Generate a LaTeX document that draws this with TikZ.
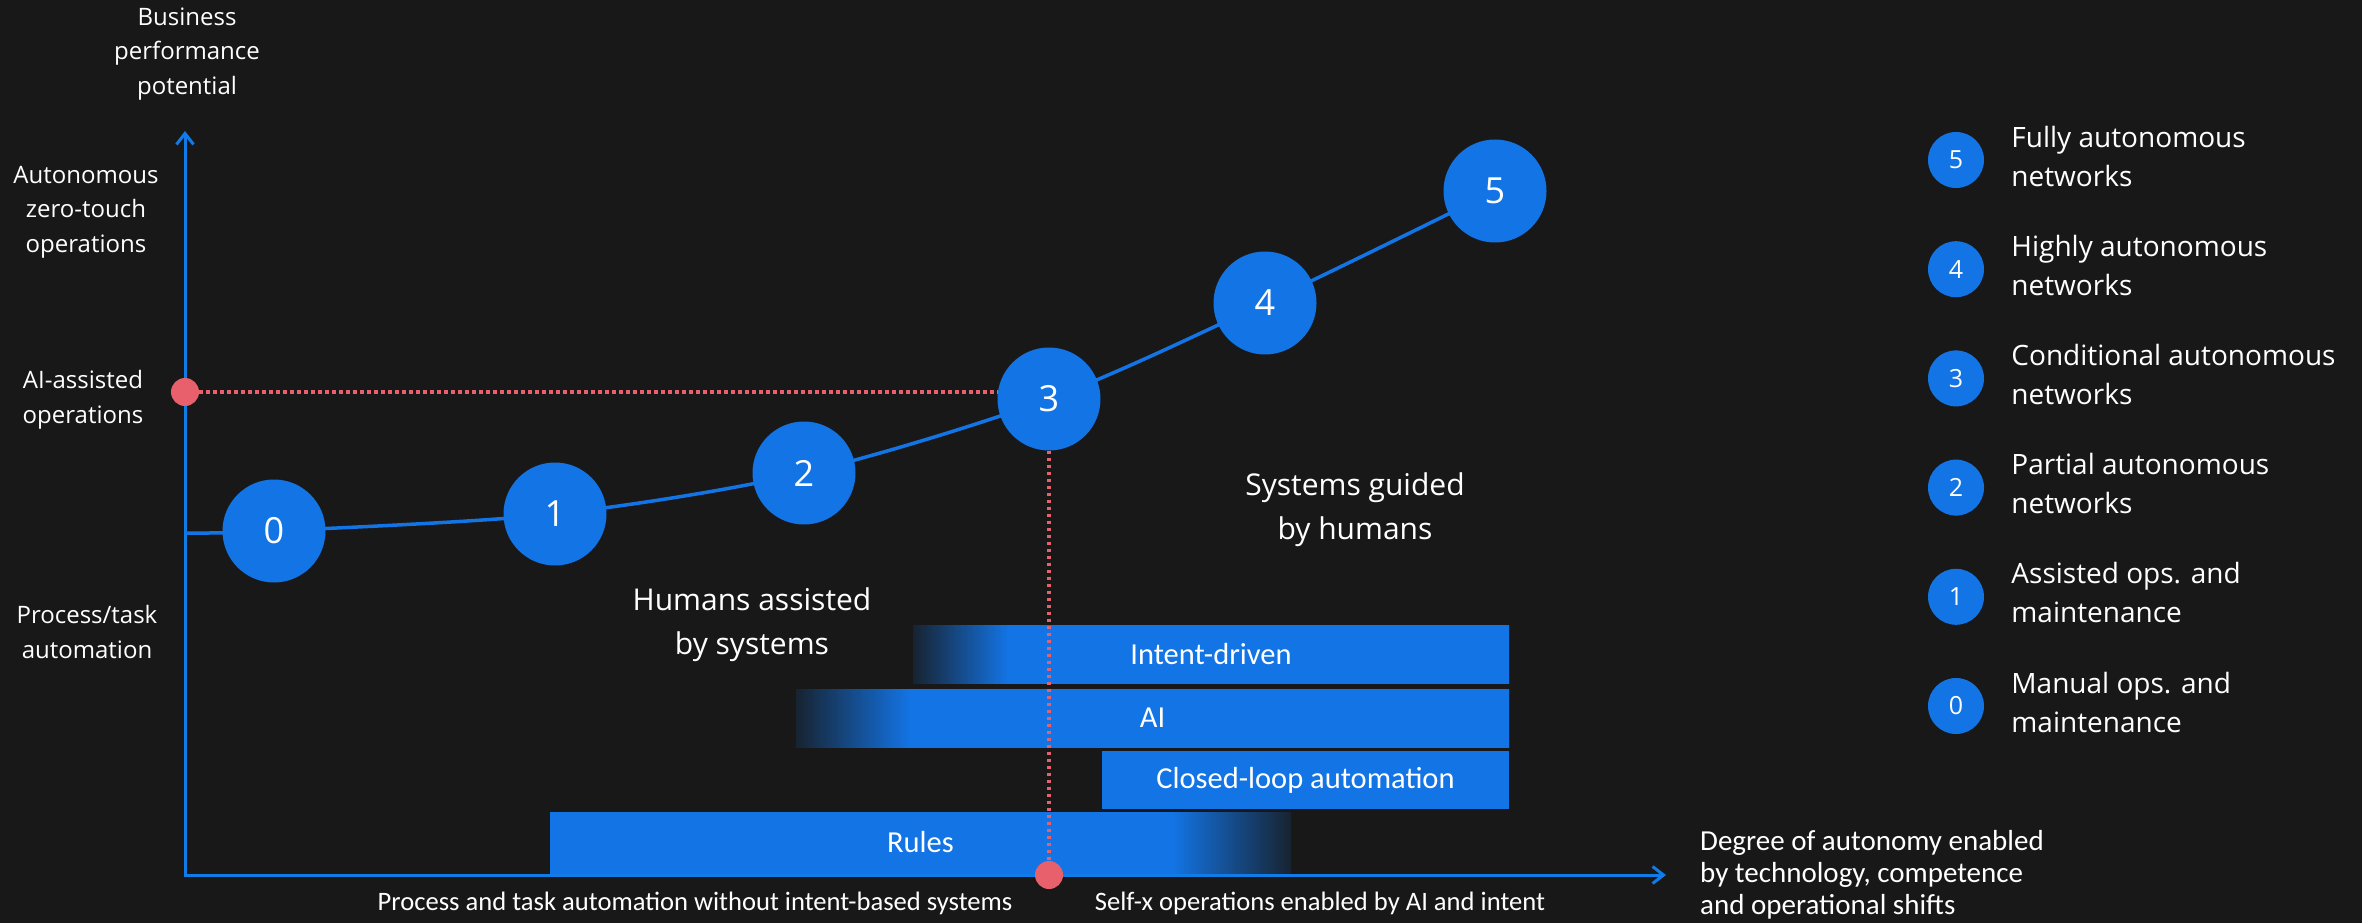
\documentclass[tikz,border=0pt]{standalone}
\usepackage{fontspec}
\setmainfont{Open Sans}
\newfontfamily\calfont{Carlito}
\usetikzlibrary{arrows.meta}
\usetikzlibrary{positioning}
\definecolor{bgdark}{RGB}{24,24,24}
\definecolor{nodeblue}{RGB}{19,116,229}
\definecolor{axisblue}{RGB}{16,124,232}
\definecolor{guidered}{RGB}{232,96,108}
\colorlet{barfade}{nodeblue!12!bgdark}
\pgfdeclarehorizontalshading{fadeleft}{100bp}{color(0bp)=(barfade); color(25bp)=(barfade); color(33bp)=(nodeblue); color(100bp)=(nodeblue)}
\pgfdeclarehorizontalshading{faderight}{100bp}{color(0bp)=(nodeblue); color(67bp)=(nodeblue); color(75bp)=(barfade); color(100bp)=(barfade)}

\begin{document}
\begin{tikzpicture}
	[x=1pt, y=-1pt,
	stage/.style={circle, fill=nodeblue, text=white, minimum size=103pt, inner sep=0pt, font=\fontsize{36}{40}\selectfont},
	legdot/.style={circle, fill=nodeblue, text=white, minimum size=56pt, inner sep=0pt, font=\fontsize{25}{28}\selectfont},
	legtext/.style={text=white, align=left, inner sep=0pt, font=\fontsize{28}{39}\selectfont},
	axislabel/.style={text=white, align=center, inner sep=0pt, font=\fontsize{24}{34.5}\selectfont},
	zonelabel/.style={text=white, align=center, inner sep=0pt, font=\fontsize{30}{44}\selectfont},
	bar/.style={text=white, inner sep=0pt, minimum height=58pt, font=\calfont\fontsize{30.5}{32}\selectfont},
	baselabel/.style={text=white, inner sep=0pt, font=\calfont\fontsize{26.6}{32}\selectfont},
	axisline/.style={draw=axisblue, line width=3pt},
	trend/.style={draw=nodeblue, line width=3.5pt},
	guide/.style={draw=guidered, line width=3.7pt, dash pattern=on 3.5pt off 3.5pt},
	reddot/.style={circle, fill=guidered, minimum size=28pt, inner sep=0pt}]
	\useasboundingbox[fill=bgdark] (0,0) rectangle (2362,923);

	\node[axislabel] (ylabel) at (187,54) {Business\\performance\\potential};
	\node[axislabel] (lvltop) at (86,212) {Autonomous\\zero-touch\\operations};
	\node[axislabel] (lvlmid) at (83,400) {AI-assisted\\operations};
	\node[axislabel] (lvllow) at (87,632) {Process/task\\automation};

	\node[bar, shade, shading=fadeleft, minimum width=596pt] (intent) at (1211,654.5) {Intent-driven};
	\node[bar, shade, shading=fadeleft, minimum width=713pt] (ai) at (1152.5,718) {AI};
	\node[bar, fill=nodeblue, minimum width=407pt] (closed) at (1305.5,780) {Closed-loop automation};
	\node[bar, shade, shading=faderight, minimum width=741pt, minimum height=61pt] (rules) at (920.5,842.5) {Rules};

	\coordinate (origin) at (185,875);
	\coordinate (ytip) at (185,131);
	\coordinate (xtip) at (1666,875);
	\draw[axisline, {Straight Barb[length=11pt,width=17pt]}-{Straight Barb[length=11pt,width=17pt]}] (ytip) -- (origin) -- (xtip);

	\coordinate (cstart) at (185,533);
	\foreach \i/\x/\y in {0/274/531, 1/555/514, 2/804/473, 3/1049/399, 4/1265/303, 5/1495/191}
		\coordinate (c\i) at (\x,\y);
	\draw[trend] plot[smooth] coordinates {(cstart) (c0) (c1) (c2) (c3) (c4) (c5)};
	\foreach \i in {0,...,5}
		\node[stage] (s\i) at (c\i) {\i};

	\node[reddot] (ydot) at (185,392) {};
	\draw[guide] (ydot) -- (ydot -| s3.west);
	\draw[guide] (s3.south) -- (s3 |- origin);
	\node[reddot] (xdot) at (s3 |- origin) {};

	\node[zonelabel] (assisted) at (752,625) {Humans assisted\\by systems};
	\node[zonelabel] (guided) at (1355,510) {Systems guided\\by humans};

	\node[baselabel] (leftzone) at (695,903) {Process and task automation without intent-based systems};
	\node[baselabel] (rightzone) at (1320,903) {Self-x operations enabled by AI and intent};
	\node[baselabel, font=\calfont\fontsize{29}{32}\selectfont, align=left, right=34pt of xtip] (xlabel) {Degree of autonomy enabled\\by technology, competence\\and operational shifts};

	\foreach \i/\txt in {5/{Fully autonomous\\networks}, 4/{Highly autonomous\\networks}, 3/{Conditional autonomous\\networks}, 2/{Partial autonomous\\networks}, 1/{Assisted ops. and\\maintenance}, 0/{Manual ops. and\\maintenance}} {
		\node[legdot] (l\i) at (1956,{160+109.2*(5-\i)}) {\i};
		\node[legtext, right=27pt of l\i, yshift=4pt] (t\i) {\txt};
	}
\end{tikzpicture}
\end{document}
